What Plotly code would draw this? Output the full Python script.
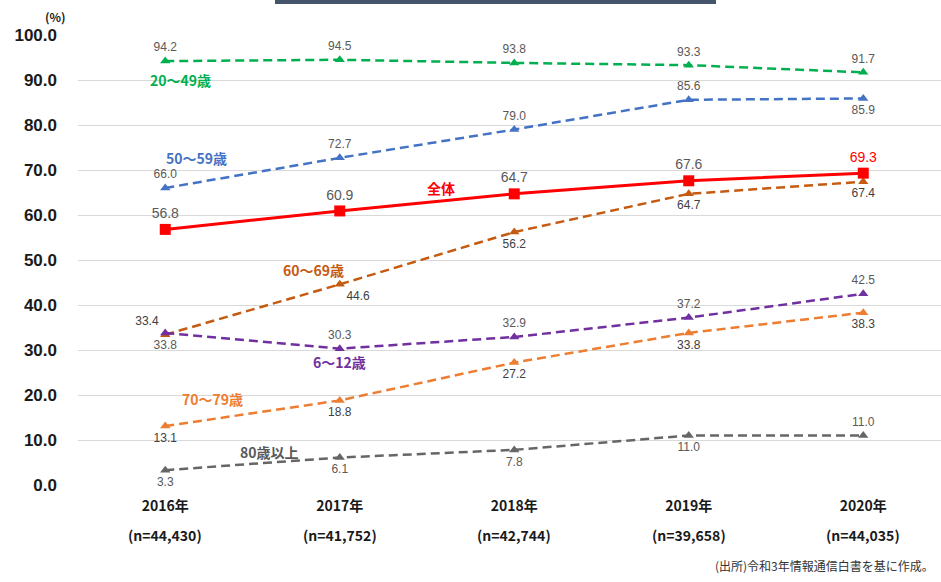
import plotly.graph_objects as go

years = ["2016年", "2017年", "2018年", "2019年", "2020年"]
samples = ["(n=44,430)", "(n=41,752)", "(n=42,744)", "(n=39,658)", "(n=44,035)"]

s_20_49 = [94.2, 94.5, 93.8, 93.3, 91.7]
s_50_59 = [66.0, 72.7, 79.0, 85.6, 85.9]
s_all = [56.8, 60.9, 64.7, 67.6, 69.3]
s_60_69 = [33.4, 44.6, 56.2, 64.7, 67.4]
s_6_12 = [33.8, 30.3, 32.9, 37.2, 42.5]
s_70_79 = [13.1, 18.8, 27.2, 33.8, 38.3]
s_80 = [3.3, 6.1, 7.8, 11.0, 11.0]

x = list(range(len(years)))

NUMFONT = "Liberation Sans, Arial, sans-serif"
JPFONT = "Noto Sans CJK JP, sans-serif"

W, H = 941, 582
L, R, T, B = 78, 0, 35, 97
PW, PH = W - L - R, H - T - B


def px(xp):
    return (xp - L) / PW


def py(yp):
    return (H - B - yp) / PH


fig = go.Figure()


def add_series(vals, color, positions, dash="9px,5px", symbol="triangle-up", msize=9, width=2.5,
               tfont=None):
    fig.add_trace(go.Scatter(
        x=x, y=vals, mode="lines+markers+text",
        line=dict(color=color, width=width, dash=dash),
        marker=dict(symbol=symbol, size=msize, color=color),
        text=[f"{v:.1f}" for v in vals],
        textposition=positions,
        textfont=tfont or dict(family=NUMFONT, size=12, color="#595959"),
        cliponaxis=False, showlegend=False, hoverinfo="skip",
    ))


add_series(s_20_49, "#00B050", ["top center"] * 5)
add_series(s_50_59, "#4472C4", ["top center", "top center", "top center", "top center", "bottom center"])
add_series(s_60_69, "#C55A11", ["top left", "bottom right", "bottom center", "bottom center", "bottom center"],
           tfont=dict(family=NUMFONT, size=12, color="#404040"))
add_series(s_6_12, "#7030A0", ["bottom center", "top center", "top center", "top center", "top center"])
add_series(s_70_79, "#ED7D31", ["bottom center"] * 5,
           tfont=dict(family=NUMFONT, size=12, color="#404040"))
add_series(s_80, "#666666", ["bottom center", "bottom center", "bottom center", "bottom center", "top center"])

# overall (solid red)
fig.add_trace(go.Scatter(
    x=x, y=s_all, mode="lines+markers+text",
    line=dict(color="#FF0000", width=3),
    marker=dict(symbol="square", size=11, color="#FF0000"),
    text=[f"{v:.1f}" for v in s_all],
    textposition="top center",
    textfont=dict(family=NUMFONT, size=14,
                  color=["#595959", "#595959", "#595959", "#595959", "#FF0000"]),
    cliponaxis=False, showlegend=False, hoverinfo="skip",
))

annotations = []
series_labels = [
    ("20～49歳", "#00B050", 0.09, 90.0),
    ("50～59歳", "#4472C4", 0.18, 72.7),
    ("全体", "#FF0000", 1.58, 66.0),
    ("60～69歳", "#C55A11", 0.85, 47.8),
    ("6～12歳", "#7030A0", 1.0, 27.3),
    ("70～79歳", "#ED7D31", 0.27, 19.1),
    ("80歳以上", "#595959", 0.60, 7.3),
]
for txt, col, ax_, ay_ in series_labels:
    annotations.append(dict(x=ax_, y=ay_, xref="x", yref="y", text=f"<b>{txt}</b>",
                            showarrow=False, font=dict(family=JPFONT, size=14, color=col)))

for i, n in enumerate(samples):
    annotations.append(dict(x=i, y=py(535), xref="x", yref="paper", text=f"<b>{n}</b>",
                            showarrow=False, yanchor="middle",
                            font=dict(family=JPFONT, size=14, color="#1a1a1a")))

annotations.append(dict(x=px(55), y=py(16), xref="paper", yref="paper", text="<b>(%)</b>",
                        showarrow=False, xanchor="center", yanchor="middle",
                        font=dict(family=JPFONT, size=12, color="#1a1a1a")))

annotations.append(dict(x=px(936), y=py(565), xref="paper", yref="paper",
                        text="(出所)令和3年情報通信白書を基に作成。", showarrow=False,
                        xanchor="right", yanchor="middle",
                        font=dict(family=JPFONT, size=12, color="#333333")))

fig.update_layout(
    width=W, height=H,
    margin=dict(l=L, r=R, t=T, b=B, autoexpand=False),
    paper_bgcolor="white", plot_bgcolor="white",
    annotations=annotations,
    shapes=[dict(type="rect", xref="paper", yref="paper",
                 x0=px(275), x1=px(716), y0=py(4), y1=py(0),
                 fillcolor="#44546A", line=dict(width=0))],
    xaxis=dict(
        range=[-0.5, -0.5 + PW / 174.5],
        tickvals=x, ticktext=[f"<b>{y}</b>" for y in years],
        showgrid=False, zeroline=False, showline=False, ticks="",
        tickfont=dict(family=JPFONT, size=14, color="#1a1a1a"),
        ticklabelstandoff=11,
    ),
    yaxis=dict(
        range=[0, 100], dtick=10, tickformat=".1f",
        showgrid=True, gridcolor="#D9D9D9", gridwidth=1,
        zeroline=False, showline=False, ticks="",
        tickfont=dict(family=NUMFONT, size=17, color="#1a1a1a"),
        ticklabelstandoff=20,
        tickprefix="<b>", ticksuffix="</b>",
    ),
)

fig.write_html("out.html", config={"displayModeBar": False},
               post_script="document.body.style.margin='0';")
